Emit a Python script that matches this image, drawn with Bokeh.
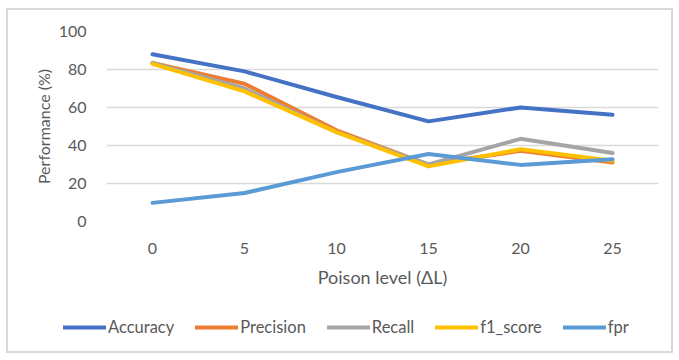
from bokeh.plotting import figure
from bokeh.models import FactorRange, Range1d, Legend, LegendItem, FixedTicker
from bokeh.embed import file_html
from bokeh.resources import INLINE

levels = ["0", "5", "10", "15", "20", "25"]
accuracy = [88, 79, 65.5, 52.7, 60, 56.2]
precision = [83.5, 72.5, 48, 30, 37.2, 31]
recall = [83.5, 70, 47, 30, 43.5, 36]
f1_score = [83, 68.5, 47, 29, 38, 32]
fpr = [9.8, 15, 26, 35.5, 29.8, 32.8]

series = [("Accuracy", accuracy, "#4472C4"),
          ("Precision", precision, "#ED7D31"),
          ("Recall", recall, "#A5A5A5"),
          ("f1_score", f1_score, "#FFC000"),
          ("fpr", fpr, "#5B9BD5")]

FONT = "Lato"
GREY = "#595959"
BORDER = "2px solid #d9d9d9"

# ---- main chart ----
p = figure(x_range=FactorRange(*levels), y_range=Range1d(0, 100),
           width=667, height=280, output_backend="svg", toolbar_location=None,
           min_border_left=98, min_border_right=17, min_border_top=21,
           min_border_bottom=67)
p.styles = {"border-top": BORDER, "border-left": BORDER, "border-right": BORDER,
            "margin-left": "6px", "margin-top": "8px"}
p.outline_line_color = None
p.xgrid.grid_line_color = None
p.ygrid.grid_line_color = "#d9d9d9"
p.ygrid.grid_line_width = 1.5

p.yaxis.ticker = FixedTicker(ticks=[0, 20, 40, 60, 80, 100])
for ax in (p.xaxis[0], p.yaxis[0]):
    ax.axis_line_color = None
    ax.major_tick_line_color = None
    ax.minor_tick_line_color = None
    ax.major_label_text_font = FONT
    ax.major_label_text_font_size = "16px"
    ax.major_label_text_color = GREY
    ax.axis_label_text_font = FONT
    ax.axis_label_text_font_style = "normal"
    ax.axis_label_text_color = GREY

p.xaxis.axis_label_text_font_size = "18px"
p.yaxis.axis_label_text_font_size = "16px"
p.yaxis.axis_label = "Performance (%)"
p.xaxis.axis_label = "Poison level (\u0394L)"
p.xaxis.major_label_standoff = 15
p.xaxis.axis_label_standoff = 9
p.yaxis.major_label_standoff = 14
p.yaxis.axis_label_standoff = 3

for name, vals, color in series:
    p.line(levels, vals, line_color=color, line_width=4,
           line_cap="round", line_join="round")

# ---- legend strip (same series styles, lines kept out of its view) ----
q = figure(x_range=FactorRange(*levels), y_range=Range1d(200, 300),
           width=667, height=65, output_backend="svg", toolbar_location=None,
           min_border_left=0, min_border_right=0, min_border_top=0,
           min_border_bottom=0)
q.styles = {"border-bottom": BORDER, "border-left": BORDER, "border-right": BORDER,
            "margin-left": "6px"}
q.axis.visible = False
q.grid.visible = False
q.outline_line_color = None

items = []
for name, vals, color in series:
    r = q.line(levels, vals, line_color=color, line_width=4, line_cap="round")
    items.append(LegendItem(label=name, renderers=[r]))

legend = Legend(items=items, orientation="horizontal", location=(55, 16),
                label_text_font=FONT, label_text_font_size="16.5px",
                label_text_color=GREY, glyph_width=43, glyph_height=8,
                label_standoff=2, spacing=21, padding=0, margin=0,
                background_fill_alpha=0, border_line_color=None)
q.add_layout(legend, "center")

open("out.html", "w").write(file_html([p, q], INLINE))
